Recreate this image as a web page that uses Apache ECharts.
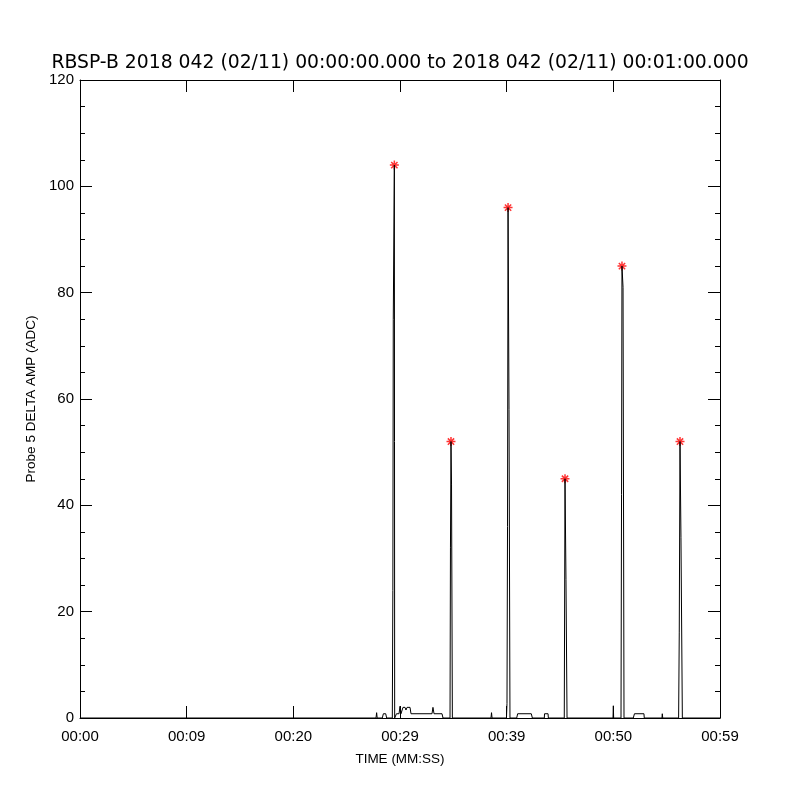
<!DOCTYPE html>
<html>
<head>
<meta charset="utf-8">
<script src="https://cdn.jsdelivr.net/npm/echarts@6/dist/echarts.min.js"></script>
<style>html,body{margin:0;padding:0;background:#fff}#c{width:800px;height:800px}</style>
</head>
<body>
<div id="c"></div>
<script>
// Time in seconds after 00:00:00, amplitude in ADC
var times = [0, 27.75, 27.81, 27.86, 28.34, 28.44, 28.66, 28.75,
  29.28, 29.33, 29.37, 29.47, 29.50,
  29.63, 29.67, 29.91, 30.00, 30.09, 30.19, 30.28, 30.47, 30.56, 30.66, 30.94, 31.03, 33.00, 33.09, 33.19, 33.94, 34.03,
  34.69, 34.73, 34.78, 34.83, 34.91,
  38.53, 38.58, 38.63,
  39.98, 40.03, 40.08, 40.13, 40.22, 40.31,
  40.94, 41.03, 42.31, 42.41,
  43.53, 43.55, 43.88, 43.91,
  45.40, 45.47, 45.56, 45.66,
  49.97, 50.00, 50.03,
  50.72, 50.77, 50.81, 50.91, 51.00,
  51.87, 51.98, 52.87, 52.90,
  54.56, 54.59, 54.63,
  56.12, 56.18, 56.25, 56.34, 56.47,
  60];
var values = [0, 0, 1, 0, 0, 0.8, 0.8, 0,
  0, 24, 75, 104, 0,
  0, 0.8, 0.8, 2.2, 0.8, 0.8, 2, 2, 1.5, 2, 2, 0.8, 0.8, 2, 0.8, 0.8, 0,
  0, 32, 52, 44, 0,
  0, 1, 0,
  0, 2.7, 36, 96, 58, 0,
  0, 0.8, 0.8, 0,
  0, 0.8, 0.8, 0,
  0, 45, 26, 0,
  0, 2.3, 0,
  0, 42, 85, 81, 0,
  0, 0.8, 0.8, 0,
  0, 0.8, 0,
  0, 16, 52, 34, 0,
  0];
var peakTimes = [29.47, 34.78, 40.13, 45.47, 50.81, 56.25];
var peakValues = [104, 52, 96, 45, 85, 52];
var xTickLabels = ['00:00', '00:09', '00:20', '00:29', '00:39', '00:50', '00:59'];
var titleText = 'RBSP-B 2018 042 (02/11) 00:00:00.000 to 2018 042 (02/11) 00:01:00.000';
var xName = 'TIME (MM:SS)';
var yName = 'Probe 5 DELTA AMP (ADC)';

var lineData = times.map(function (t, i) { return [t, values[i]]; });
var peakData = peakTimes.map(function (t, i) { return [t, peakValues[i]]; });

var FONT = 'Liberation Sans';
var chart = echarts.init(document.getElementById('c'), null, {renderer: 'canvas'});
var axisCommon = {
  type: 'value',
  axisLine: {show: true, onZero: false, lineStyle: {color: '#000', width: 1}},
  splitLine: {show: false},
  axisTick: {show: true, inside: true, length: 12, lineStyle: {color: '#000', width: 1}}
};
chart.setOption({
  animation: false,
  backgroundColor: '#fff',
  title: {
    text: titleText, left: 'center', top: 49,
    textStyle: {fontFamily: 'DejaVu Sans', fontSize: 18.8, fontWeight: 'normal', color: '#000'}
  },
  grid: {left: 80, right: 80, top: 80, bottom: 82, containLabel: false},
  xAxis: [
    Object.assign({}, axisCommon, {
      position: 'bottom', min: 0, max: 60, interval: 10,
      minorTick: {show: false},
      axisLabel: {
        show: true, margin: 11, color: '#000', fontFamily: FONT, fontSize: 15,
        formatter: function (v) { return xTickLabels[Math.round(v / 10)]; }
      },
      name: xName, nameLocation: 'middle', nameGap: 34,
      nameTextStyle: {fontFamily: FONT, fontSize: 13.5, color: '#000'}
    }),
    Object.assign({}, axisCommon, {
      position: 'top', min: 0, max: 60, interval: 10,
      axisLabel: {show: false}
    })
  ],
  yAxis: [
    Object.assign({}, axisCommon, {
      position: 'left', min: 0, max: 120, interval: 20,
      minorTick: {show: true, splitNumber: 4, length: 5, lineStyle: {color: '#000', width: 1}},
      axisLabel: {show: true, margin: 6, color: '#000', fontFamily: FONT, fontSize: 15},
      name: yName, nameLocation: 'middle', nameGap: 40,
      nameTextStyle: {fontFamily: FONT, fontSize: 13.5, color: '#000'}
    }),
    Object.assign({}, axisCommon, {
      position: 'right', min: 0, max: 120, interval: 20,
      minorTick: {show: true, splitNumber: 4, length: 5, lineStyle: {color: '#000', width: 1}},
      axisLabel: {show: false}
    })
  ],
  series: [
    {
      type: 'line', xAxisIndex: 0, yAxisIndex: 0, data: lineData,
      showSymbol: false, symbol: 'none', smooth: false,
      lineStyle: {color: '#000', width: 1}
    },
    {
      type: 'scatter', xAxisIndex: 0, yAxisIndex: 0, data: peakData,
      symbol: 'path://M0,5L10,5M5,0L5,10M1.5,1.5L8.5,8.5M8.5,1.5L1.5,8.5',
      symbolSize: 9,
      itemStyle: {color: 'none', borderColor: '#ff0000', borderWidth: 1.5}
    }
  ]
});
</script>
</body>
</html>
